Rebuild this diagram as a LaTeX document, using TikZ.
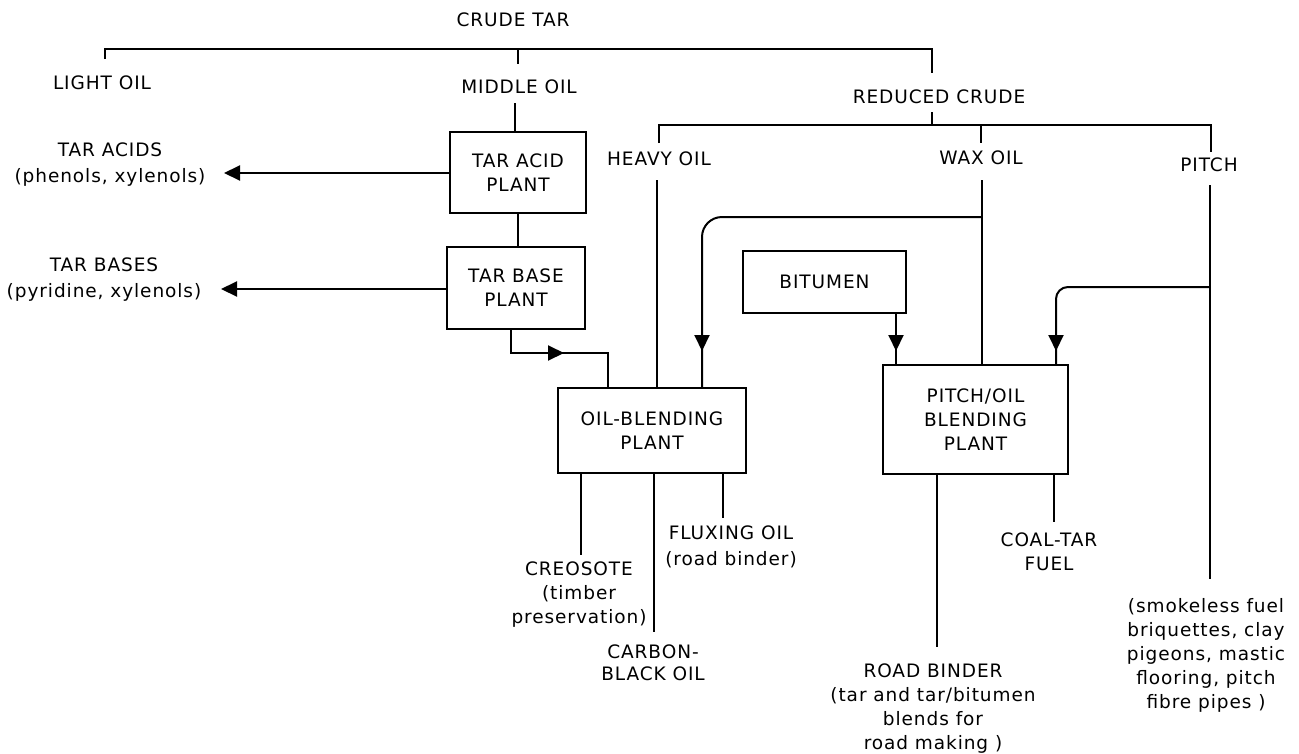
\documentclass[tikz,border=0pt]{standalone}
\usepackage{fontspec}
\setmainfont{DejaVu Sans}[LetterSpace=5]
\usetikzlibrary{arrows.meta,decorations.markings}
\tikzset{
  lbl/.style={font=\fontsize{18.5}{24}\selectfont, align=center, inner sep=0pt},
  lbltwo/.style={font=\fontsize{18.5}{26}\selectfont, align=center, inner sep=0pt},
  plant/.style={draw, font=\fontsize{18.5}{24}\selectfont, align=center, inner sep=0pt},
  midarrow/.style={postaction={decorate}, decoration={markings, mark=at position #1 with {\arrow{>}}}}
}
\begin{document}
\begin{tikzpicture}[x=1pt,y=-1pt, line width=2pt, >={Triangle[length=16pt,width=15pt]}]
\useasboundingbox (0,0) rectangle (1299,753);
% ---- labels
\node[lbl] (crude) at (513,20) {CRUDE TAR};
\node[lbl] (light) at (102,83) {LIGHT OIL};
\node[lbl] (middle) at (519,87) {MIDDLE OIL};
\node[lbl] (reduced) at (939,97) {REDUCED CRUDE};
\node[lbl] (heavy) at (659,159) {HEAVY OIL};
\node[lbl] (wax) at (981,158) {WAX OIL};
\node[lbl] (pitch) at (1209,165) {PITCH};
\node[lbltwo] (tacids) at (110,165) {TAR ACIDS\\(phenols, xylenols)};
\node[lbltwo] (tbases) at (104,280) {TAR BASES\\(pyridine, xylenols)};
% ---- boxes
\node[plant, minimum width=136pt, minimum height=81pt] (acid) at (518,172.5) {TAR ACID\\PLANT};
\node[plant, minimum width=138pt, minimum height=82pt] (base) at (516,288) {TAR BASE\\PLANT};
\node[plant, minimum width=188pt, minimum height=85pt] (oilb) at (652,430.5) {OIL-BLENDING\\PLANT};
\node[plant, minimum width=163pt, minimum height=62pt] (bitumen) at (824.5,282) {BITUMEN};
\node[plant, minimum width=185pt, minimum height=109pt] (pitchoil) at (975.5,419.5) {PITCH/OIL\\BLENDING\\PLANT};
% ---- output labels
\node[lbl] (creosote) at (579,595) {CREOSOTE\\(timber\\preservation)};
\node[lbl, font=\fontsize{18.5}{22}\selectfont] (carbon) at (653,663) {CARBON-\\BLACK OIL};
\node[lbltwo] (fluxing) at (731,547) {FLUXING OIL\\(road binder)};
\node[lbl] (coaltar) at (1049,552) {COAL-TAR\\FUEL};
\node[lbl] (roadbinder) at (933,709) {ROAD BINDER\\(tar and tar/bitumen\\blends for\\road making )};
\node[lbl] (smokeless) at (1206,655) {(smokeless fuel\\briquettes, clay\\pigeons, mastic\\flooring, pitch\\fibre pipes )};
% ---- crude tar bracket
\coordinate (top) at (0,49);
\coordinate (ltop) at (105,59);
\coordinate (rtop) at (932,73);
\coordinate (mtick) at (518,64);
\draw (ltop) -- (ltop |- top) -- (rtop |- top) -- (rtop);
\draw (mtick |- top) -- (mtick);
% ---- reduced crude bracket
\coordinate (sec) at (0,125);
\coordinate (rc) at (932,112);
\coordinate (hvt) at (659,143);
\coordinate (wt) at (981,143);
\coordinate (pt) at (1211,152);
\draw (rc) -- (rc |- sec);
\draw (hvt) -- (hvt |- sec) -- (pt |- sec) -- (pt);
\draw (wt |- sec) -- (wt);
% ---- middle oil chain
\coordinate (mo) at (515,103);
\draw (mo) -- (mo |- acid.north);
\draw (acid.south) -- (acid.south |- base.north);
\coordinate (tat) at (224,173);
\draw[->] (acid.west |- tat) -- (tat);
\coordinate (tbt) at (221,289);
\draw[->] (base.west |- tbt) -- (tbt);
\coordinate (b1) at (511,353);
\coordinate (obin) at (608,0);
\draw[midarrow=76pt] (b1 |- base.south) |- (obin |- b1) -- (obin |- oilb.north);
% ---- heavy / wax / pitch streams
\coordinate (hv) at (657,180);
\draw (hv) -- (hv |- oilb.north);
\coordinate (wx) at (982,180);
\draw (wx) -- (wx |- pitchoil.north);
\coordinate (pl) at (1210,185);
\coordinate (plend) at (1210,579);
\draw (pl) -- (plend);
\coordinate (wl) at (982,217);
\coordinate (lp) at (702,0);
\draw[rounded corners=20pt, midarrow=-36pt] (wl) -| (lp |- oilb.north);
\coordinate (bt) at (896,0);
\draw[midarrow=-13pt] (bt |- bitumen.south) -- (bt |- pitchoil.north);
\coordinate (pb) at (1210,287);
\coordinate (pbx) at (1056,0);
\draw[rounded corners=12pt, midarrow=-13pt] (pb) -| (pbx |- pitchoil.north);
% ---- outputs
\coordinate (c1) at (581,555);
\coordinate (c2) at (654,632);
\coordinate (c3) at (723,518);
\coordinate (c4) at (937,647);
\coordinate (c5) at (1054,522);
\draw (c1 |- oilb.south) -- (c1);
\draw (c2 |- oilb.south) -- (c2);
\draw (c3 |- oilb.south) -- (c3);
\draw (c4 |- pitchoil.south) -- (c4);
\draw (c5 |- pitchoil.south) -- (c5);
\end{tikzpicture}
\end{document}
